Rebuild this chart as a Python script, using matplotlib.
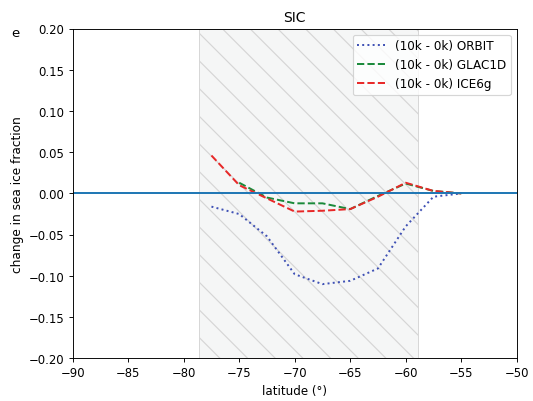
import matplotlib
matplotlib.use("Agg")
from matplotlib import pyplot as plt

# latitude points and change in sea ice fraction (10k - 0k)
lat = [-77.5, -75.0, -72.5, -70.0, -67.5, -65.0, -62.5, -60.0, -57.5, -55.0]
orbit = [-0.016, -0.025, -0.052, -0.098, -0.110, -0.106, -0.091, -0.040, -0.004, 0.000]
lat_glac = [-75.0, -72.5, -70.0, -67.5, -65.0, -62.5, -60.0, -57.5, -55.0]
glac1d = [0.013, -0.005, -0.012, -0.012, -0.019, -0.003, 0.012, 0.003, 0.000]
ice6g = [0.046, 0.010, -0.006, -0.022, -0.021, -0.019, -0.004, 0.013, 0.003, 0.000]
band = (-78.65, -58.9)

# drawn at 6.4x4.8 in, saved at a lower dpi to land on 533x402 px
fig = plt.figure(figsize=(6.4, 4.824))
ax = fig.add_axes([0.1364, 0.1062, 0.833, 0.8209])

ax.axvspan(band[0], band[1], facecolor="#f5f6f6", edgecolor="#d5d5d5",
           hatch="\\", linewidth=0.8, zorder=0)
ax.plot(lat, orbit, ls=":", color="#3f51b5", lw=1.7, label="(10k - 0k) ORBIT")
ax.plot(lat_glac, glac1d, ls="--", color="#1a8a3a", lw=1.7, label="(10k - 0k) GLAC1D")
ax.plot(lat, ice6g, ls="--", color="#e82828", lw=1.7, label="(10k - 0k) ICE6g")
ax.axhline(0, color="tab:blue", lw=1.7)

ax.set_xlim(-90, -50)
ax.set_ylim(-0.2, 0.2)
ax.set_xticks(range(-90, -49, 5))
ax.set_yticks([-0.2, -0.15, -0.1, -0.05, 0, 0.05, 0.1, 0.15, 0.2])
ax.tick_params(labelsize=10)
ax.set_title("SIC", fontsize=12)
ax.set_xlabel("latitude (°)", fontsize=10.3)
ax.set_ylabel("change in sea ice fraction", fontsize=10.5)
ax.legend(loc="upper right", fontsize=10.4, handlelength=2.3)
fig.text(0.022, 0.907, "e", fontsize=11.5)

fig.savefig("out.png", dpi=533 / 6.4)
